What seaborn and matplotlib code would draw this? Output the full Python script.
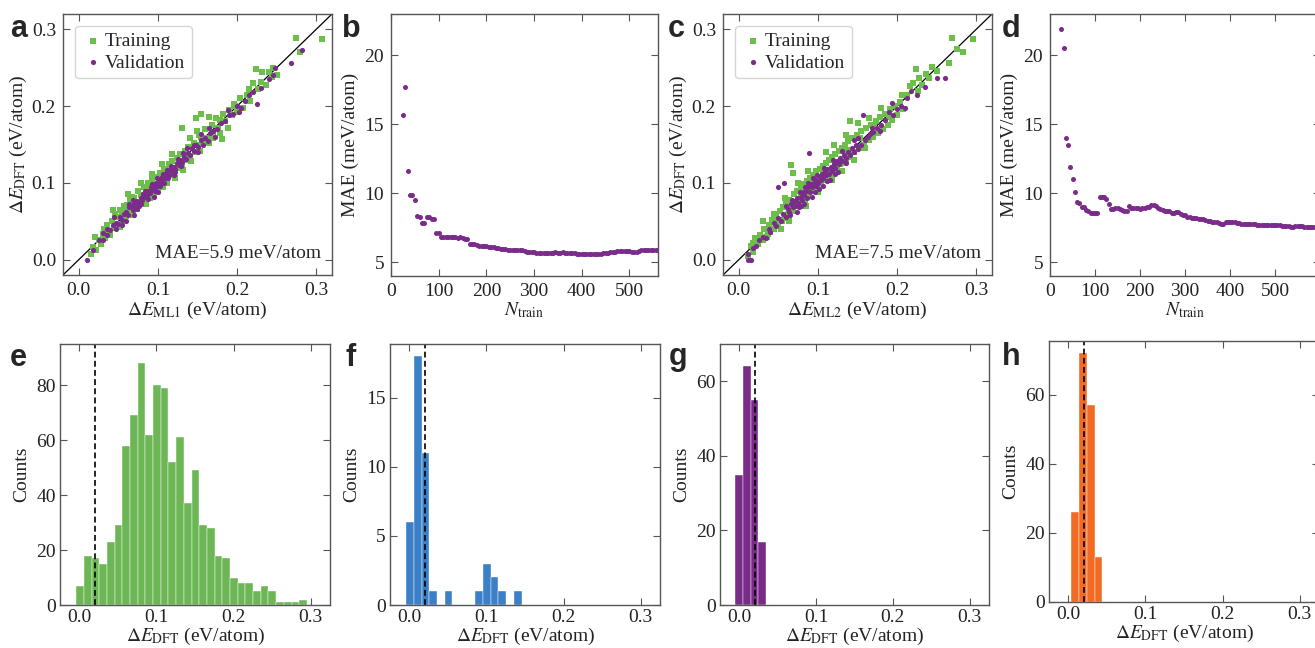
import numpy as np
import matplotlib
matplotlib.use("Agg")
import matplotlib.pyplot as plt
import seaborn as sns

# ---- data ----
# a: ML1 parity (x = predicted, y = DFT), eV/atom
a_train = [(0.015, 0.008), (0.018, 0.016), (0.022, 0.012), (0.026, 0.025), (0.028, 0.020), (0.030, 0.033),
           (0.033, 0.028), (0.035, 0.045), (0.037, 0.036), (0.040, 0.032), (0.042, 0.050), (0.044, 0.041),
           (0.046, 0.060), (0.048, 0.046), (0.050, 0.055), (0.052, 0.043), (0.054, 0.062), (0.056, 0.050),
           (0.058, 0.066), (0.060, 0.057), (0.061, 0.071), (0.063, 0.060), (0.065, 0.078), (0.066, 0.064),
           (0.068, 0.058), (0.070, 0.080), (0.071, 0.070), (0.073, 0.066), (0.075, 0.090), (0.076, 0.072),
           (0.078, 0.084), (0.080, 0.075), (0.082, 0.095), (0.083, 0.080), (0.085, 0.072), (0.087, 0.100),
           (0.088, 0.088), (0.090, 0.080), (0.092, 0.104), (0.094, 0.092), (0.095, 0.085), (0.097, 0.108),
           (0.099, 0.097), (0.100, 0.090), (0.102, 0.113), (0.104, 0.100), (0.106, 0.094), (0.108, 0.118),
           (0.110, 0.105), (0.112, 0.100), (0.114, 0.124), (0.116, 0.110), (0.118, 0.128), (0.120, 0.113),
           (0.122, 0.106), (0.124, 0.133), (0.126, 0.120), (0.128, 0.138), (0.130, 0.124), (0.132, 0.117),
           (0.134, 0.142), (0.136, 0.130), (0.138, 0.147), (0.140, 0.133), (0.142, 0.128), (0.145, 0.152),
           (0.147, 0.140), (0.149, 0.168), (0.151, 0.150), (0.153, 0.142), (0.155, 0.160), (0.158, 0.152),
           (0.160, 0.170), (0.162, 0.158), (0.165, 0.152), (0.168, 0.175), (0.170, 0.165), (0.173, 0.185),
           (0.176, 0.172), (0.179, 0.165), (0.182, 0.190), (0.185, 0.180), (0.188, 0.172), (0.190, 0.195),
           (0.194, 0.188), (0.197, 0.200), (0.200, 0.192), (0.204, 0.210), (0.208, 0.198), (0.212, 0.215),
           (0.216, 0.207), (0.220, 0.230), (0.224, 0.249), (0.226, 0.222), (0.230, 0.232), (0.236, 0.228),
           (0.240, 0.245), (0.245, 0.250), (0.250, 0.240), (0.275, 0.289), (0.280, 0.270), (0.307, 0.287),
           (0.043, 0.065), (0.062, 0.085), (0.078, 0.100), (0.105, 0.125), (0.130, 0.171), (0.148, 0.184),
           (0.155, 0.190), (0.165, 0.186), (0.181, 0.157), (0.170, 0.158), (0.057, 0.070), (0.092, 0.112),
           (0.118, 0.138), (0.140, 0.158), (0.020, 0.030), (0.032, 0.040), (0.052, 0.065), (0.067, 0.082),
           (0.086, 0.094), (0.101, 0.106), (0.115, 0.119), (0.135, 0.139), (0.152, 0.162), (0.178, 0.182),
           (0.196, 0.203), (0.215, 0.222), (0.232, 0.244), (0.244, 0.238)]
a_val = [(0.010, 0.000), (0.018, 0.013), (0.025, 0.025), (0.030, 0.026), (0.035, 0.032), (0.036, 0.040),
         (0.040, 0.038), (0.043, 0.045), (0.047, 0.048), (0.050, 0.046), (0.052, 0.055), (0.055, 0.052),
         (0.057, 0.060), (0.060, 0.062), (0.062, 0.058), (0.064, 0.068), (0.066, 0.070), (0.068, 0.065),
         (0.070, 0.073), (0.071, 0.068), (0.073, 0.076), (0.075, 0.074), (0.076, 0.070), (0.078, 0.080),
         (0.080, 0.078), (0.081, 0.085), (0.083, 0.082), (0.085, 0.088), (0.086, 0.084), (0.088, 0.090),
         (0.090, 0.087), (0.091, 0.094), (0.093, 0.092), (0.095, 0.097), (0.097, 0.095), (0.098, 0.100),
         (0.100, 0.098), (0.102, 0.104), (0.104, 0.101), (0.105, 0.108), (0.107, 0.105), (0.109, 0.111),
         (0.110, 0.107), (0.112, 0.114), (0.114, 0.110), (0.116, 0.118), (0.118, 0.116), (0.120, 0.121),
         (0.122, 0.118), (0.124, 0.126), (0.126, 0.123), (0.128, 0.130), (0.130, 0.127), (0.133, 0.134),
         (0.135, 0.131), (0.138, 0.139), (0.140, 0.136), (0.143, 0.145), (0.146, 0.142), (0.148, 0.150),
         (0.151, 0.147), (0.154, 0.156), (0.157, 0.150), (0.160, 0.158), (0.163, 0.155), (0.166, 0.165),
         (0.170, 0.168), (0.175, 0.170), (0.180, 0.178), (0.185, 0.180), (0.190, 0.188), (0.195, 0.190),
         (0.200, 0.200), (0.205, 0.197), (0.210, 0.207), (0.215, 0.215), (0.220, 0.218), (0.225, 0.203),
         (0.230, 0.224), (0.240, 0.235), (0.245, 0.240), (0.248, 0.250), (0.268, 0.256), (0.282, 0.273),
         (0.060, 0.050), (0.070, 0.058), (0.095, 0.082), (0.100, 0.088), (0.120, 0.110), (0.150, 0.140),
         (0.063, 0.072), (0.069, 0.078), (0.074, 0.066), (0.079, 0.072), (0.084, 0.090), (0.087, 0.079),
         (0.092, 0.099), (0.096, 0.090), (0.099, 0.106), (0.103, 0.096), (0.106, 0.112), (0.108, 0.100),
         (0.111, 0.117), (0.113, 0.106), (0.117, 0.122), (0.121, 0.114), (0.125, 0.131), (0.129, 0.122),
         (0.132, 0.139), (0.137, 0.146), (0.145, 0.150), (0.155, 0.164), (0.165, 0.172), (0.047, 0.040),
         (0.055, 0.045), (0.030, 0.035), (0.045, 0.056), (0.172, 0.160), (0.188, 0.195), (0.202, 0.192)]

# c: ML2 parity
c_train = [(0.012, 0.005), (0.015, 0.018), (0.018, 0.010), (0.020, 0.028), (0.024, 0.020), (0.027, 0.032),
           (0.030, 0.025), (0.032, 0.040), (0.035, 0.030), (0.038, 0.045), (0.040, 0.036), (0.042, 0.052),
           (0.045, 0.040), (0.047, 0.058), (0.050, 0.046), (0.052, 0.063), (0.054, 0.050), (0.056, 0.068),
           (0.058, 0.054), (0.060, 0.072), (0.062, 0.060), (0.064, 0.078), (0.066, 0.123), (0.068, 0.113),
           (0.068, 0.064), (0.070, 0.086), (0.072, 0.070), (0.074, 0.090), (0.076, 0.076), (0.078, 0.094),
           (0.080, 0.080), (0.082, 0.098), (0.084, 0.078), (0.086, 0.102), (0.088, 0.086), (0.090, 0.106),
           (0.092, 0.090), (0.094, 0.110), (0.096, 0.094), (0.098, 0.115), (0.100, 0.098), (0.102, 0.118),
           (0.104, 0.100), (0.106, 0.122), (0.108, 0.104), (0.110, 0.126), (0.112, 0.108), (0.114, 0.130),
           (0.116, 0.112), (0.118, 0.134), (0.120, 0.116), (0.122, 0.138), (0.124, 0.120), (0.126, 0.142),
           (0.128, 0.124), (0.130, 0.146), (0.132, 0.126), (0.134, 0.150), (0.136, 0.130), (0.138, 0.155),
           (0.140, 0.180), (0.140, 0.134), (0.143, 0.158), (0.146, 0.140), (0.149, 0.162), (0.152, 0.146),
           (0.155, 0.168), (0.158, 0.150), (0.161, 0.172), (0.164, 0.156), (0.167, 0.176), (0.170, 0.160),
           (0.173, 0.180), (0.176, 0.165), (0.179, 0.186), (0.182, 0.170), (0.185, 0.190), (0.188, 0.176),
           (0.191, 0.196), (0.194, 0.182), (0.197, 0.200), (0.200, 0.188), (0.204, 0.206), (0.208, 0.196),
           (0.212, 0.214), (0.216, 0.226), (0.220, 0.230), (0.224, 0.249), (0.228, 0.236), (0.232, 0.228),
           (0.236, 0.242), (0.240, 0.236), (0.244, 0.251), (0.250, 0.246), (0.266, 0.256), (0.270, 0.289),
           (0.276, 0.274), (0.283, 0.270), (0.296, 0.287), (0.030, 0.050), (0.045, 0.060), (0.058, 0.080),
           (0.075, 0.100), (0.088, 0.115), (0.110, 0.140), (0.120, 0.150), (0.135, 0.163), (0.150, 0.178),
           (0.165, 0.185), (0.180, 0.198), (0.053, 0.040), (0.063, 0.050), (0.085, 0.070), (0.100, 0.088),
           (0.118, 0.104), (0.130, 0.116), (0.145, 0.130), (0.160, 0.145), (0.018, 0.022), (0.037, 0.033),
           (0.049, 0.052), (0.065, 0.070), (0.079, 0.084), (0.093, 0.100), (0.107, 0.112), (0.121, 0.127),
           (0.137, 0.143), (0.153, 0.158), (0.171, 0.176), (0.190, 0.186), (0.206, 0.214), (0.226, 0.220)]
c_val = [(0.011, -0.001), (0.015, -0.001), (0.012, 0.008), (0.018, 0.015), (0.022, 0.018), (0.026, 0.025),
         (0.030, 0.030), (0.034, 0.028), (0.038, 0.040), (0.040, 0.036), (0.044, 0.048), (0.047, 0.044),
         (0.050, 0.094), (0.057, 0.100), (0.050, 0.054), (0.053, 0.050), (0.056, 0.060), (0.059, 0.056),
         (0.062, 0.066), (0.064, 0.062), (0.066, 0.072), (0.068, 0.068), (0.070, 0.076), (0.071, 0.070),
         (0.073, 0.080), (0.075, 0.074), (0.076, 0.068), (0.078, 0.082), (0.080, 0.078), (0.081, 0.088),
         (0.083, 0.084), (0.085, 0.090), (0.086, 0.080), (0.088, 0.094), (0.089, 0.139), (0.090, 0.088),
         (0.091, 0.098), (0.093, 0.094), (0.095, 0.100), (0.097, 0.096), (0.098, 0.104), (0.100, 0.100),
         (0.102, 0.108), (0.104, 0.104), (0.105, 0.112), (0.107, 0.106), (0.109, 0.115), (0.110, 0.110),
         (0.112, 0.118), (0.114, 0.112), (0.116, 0.121), (0.118, 0.116), (0.120, 0.125), (0.122, 0.119),
         (0.124, 0.129), (0.126, 0.124), (0.128, 0.132), (0.130, 0.128), (0.133, 0.136), (0.135, 0.132),
         (0.138, 0.140), (0.140, 0.136), (0.143, 0.146), (0.146, 0.140), (0.148, 0.150), (0.151, 0.144),
         (0.154, 0.150), (0.157, 0.189), (0.160, 0.156), (0.163, 0.160), (0.166, 0.164), (0.170, 0.166),
         (0.175, 0.172), (0.180, 0.176), (0.185, 0.182), (0.193, 0.204), (0.195, 0.188), (0.200, 0.196),
         (0.205, 0.200), (0.212, 0.210), (0.218, 0.220), (0.225, 0.215), (0.235, 0.225), (0.250, 0.237),
         (0.260, 0.236), (0.073, 0.062), (0.082, 0.072), (0.092, 0.082), (0.096, 0.088), (0.106, 0.096),
         (0.115, 0.104), (0.125, 0.114), (0.067, 0.078), (0.077, 0.088), (0.087, 0.100), (0.099, 0.110),
         (0.108, 0.120), (0.119, 0.130), (0.131, 0.142), (0.145, 0.156), (0.060, 0.070), (0.065, 0.058),
         (0.079, 0.070), (0.084, 0.094), (0.094, 0.106), (0.101, 0.092), (0.111, 0.103), (0.121, 0.111),
         (0.136, 0.126), (0.150, 0.158), (0.168, 0.172), (0.178, 0.168), (0.190, 0.192), (0.210, 0.198)]

# b, d: learning curves (MAE in meV/atom vs training set size)
n_train_b = [25, 30, 35, 40, 45, 50, 55, 60, 65, 70, 75, 80, 85, 90, 95, 100, 105, 110, 115, 120,
             125, 130, 135, 140, 145, 150, 155, 160, 165, 170, 175, 180, 185, 190, 195, 200, 205, 210,
             215, 220, 225, 230, 235, 240, 245, 250, 255, 260, 265, 270, 275, 280, 285, 290, 295, 300,
             305, 310, 315, 320, 325, 330, 335, 340, 345, 350, 355, 360, 365, 370, 375, 380, 385, 390,
             395, 400, 405, 410, 415, 420, 425, 430, 435, 440, 445, 450, 455, 460, 465, 470, 475, 480,
             485, 490, 495, 500, 505, 510, 515, 520, 525, 530, 535, 540, 545, 550, 555, 560]
mae_b = [15.7, 17.7, 11.6, 9.85, 9.85, 9.5, 8.35, 8.3, 7.85, 7.85, 8.3, 8.25, 8.1, 8.15, 7.15, 7.15,
         6.85, 6.85, 6.85, 6.85, 6.8, 6.8, 6.8, 6.75, 6.8, 6.75, 6.7, 6.7, 6.35, 6.35, 6.3, 6.25, 6.2,
         6.2, 6.15, 6.15, 6.1, 6.1, 6.1, 6.05, 6.0, 5.95, 5.95, 5.95, 5.9, 5.9, 5.9, 5.85, 5.85, 5.85,
         5.85, 5.8, 5.75, 5.75, 5.72, 5.72, 5.7, 5.7, 5.68, 5.68, 5.7, 5.7, 5.68, 5.7, 5.72, 5.7, 5.7,
         5.72, 5.7, 5.68, 5.68, 5.65, 5.65, 5.62, 5.6, 5.62, 5.6, 5.62, 5.6, 5.62, 5.6, 5.62, 5.6, 5.62,
         5.65, 5.68, 5.7, 5.72, 5.75, 5.75, 5.8, 5.8, 5.82, 5.8, 5.8, 5.78, 5.75, 5.72, 5.75, 5.82, 5.85,
         5.88, 5.9, 5.9, 5.9, 5.92, 5.9, 5.9]
n_train_d = [25, 30, 35, 40, 45, 50, 55, 60, 65, 70, 75, 80, 85, 90, 95, 100, 105, 110, 115, 120,
             125, 130, 135, 140, 145, 150, 155, 160, 165, 170, 175, 180, 185, 190, 195, 200, 205, 210,
             215, 220, 225, 230, 235, 240, 245, 250, 255, 260, 265, 270, 275, 280, 285, 290, 295, 300,
             305, 310, 315, 320, 325, 330, 335, 340, 345, 350, 355, 360, 365, 370, 375, 380, 385, 390,
             395, 400, 405, 410, 415, 420, 425, 430, 435, 440, 445, 450, 455, 460, 465, 470, 475, 480,
             485, 490, 495, 500, 505, 510, 515, 520, 525, 530, 535, 540, 545, 550, 555, 560, 565, 570,
             575, 580, 585, 590]
mae_d = [21.9, 20.5, 14.0, 13.5, 11.9, 11.0, 10.1, 9.35, 9.3, 9.0, 9.0, 8.8, 8.7, 8.6, 8.6, 8.6, 8.55,
         9.7, 9.7, 9.75, 9.6, 9.25, 8.85, 8.85, 8.9, 8.95, 8.85, 8.8, 8.75, 8.75, 9.05, 8.95, 8.9, 8.9,
         8.9, 8.88, 8.92, 8.95, 8.98, 9.0, 9.15, 9.15, 9.05, 8.95, 8.85, 8.8, 8.75, 8.7, 8.7, 8.55, 8.55,
         8.65, 8.65, 8.5, 8.45, 8.4, 8.3, 8.25, 8.2, 8.22, 8.2, 8.15, 8.1, 8.1, 8.05, 8.0, 8.0, 7.95,
         7.92, 7.9, 7.85, 7.8, 7.78, 7.9, 7.92, 7.9, 7.9, 7.88, 7.85, 7.85, 7.8, 7.78, 7.8, 7.8, 7.78,
         7.75, 7.75, 7.72, 7.72, 7.7, 7.7, 7.7, 7.68, 7.68, 7.68, 7.68, 7.7, 7.68, 7.65, 7.65, 7.62,
         7.6, 7.55, 7.58, 7.6, 7.6, 7.6, 7.6, 7.58, 7.55, 7.55, 7.55, 7.55, 7.53]

# e-h: histogram counts of Delta E_DFT (eV/atom), first bin edge and bin width
e_counts = [7, 18, 17, 15, 23, 29, 58, 69, 88, 62, 80, 79, 52, 61, 37, 49, 29, 28, 18, 17,
            10, 8, 8, 5, 7, 5, 1, 1, 1, 2]
e_start, e_width = -0.004, 0.00997
f_counts = [6, 18, 11, 1, 0, 1, 0, 0, 0, 1, 3, 2, 1, 0, 1]
f_start, f_width = -0.004, 0.00997
g_counts = [35, 64, 55, 17]
g_start, g_width = -0.005, 0.01
h_counts = [26, 72, 57, 13]
h_start, h_width = 0.004, 0.01
threshold = 0.02

mae_text = ["MAE=5.9 meV/atom", "MAE=7.5 meV/atom"]

# ---- style ----
sns.set_style("ticks")
plt.rcParams["font.family"] = ["Liberation Serif", "DejaVu Serif"]
plt.rcParams["mathtext.fontset"] = "stix"
plt.rcParams["font.size"] = 14
plt.rcParams["axes.edgecolor"] = "#555555"
plt.rcParams["axes.linewidth"] = 1.0
plt.rcParams["xtick.color"] = "#555555"
plt.rcParams["ytick.color"] = "#555555"
plt.rcParams["xtick.labelcolor"] = "#222222"
plt.rcParams["ytick.labelcolor"] = "#222222"
plt.rcParams["axes.labelcolor"] = "#222222"

green = "#6cbf4a"
purple = "#7b2c8b"
hist_colors = {"e": "#6cb655", "f": "#3b7fc6", "g": "#7a2a88", "h": "#f26b23"}

fig = plt.figure(figsize=(13.15, 6.48), dpi=100)
W, H = 1315, 648


def add_ax(left, top, right, bottom):
    return fig.add_axes([left / W, 1 - bottom / H, (right - left) / W, (bottom - top) / H])


def style(ax, pad=5):
    ax.tick_params(direction="in", top=True, right=True, length=5, width=0.8, labelsize=14, pad=pad)


ax_a = add_ax(63, 14, 332, 275)
ax_b = add_ax(391, 14, 658, 276)
ax_c = add_ax(723, 14, 992, 275)
ax_d = add_ax(1050, 14, 1320, 276)
ax_e = add_ax(60, 344, 330, 605)
ax_f = add_ax(390, 344, 660, 605)
ax_g = add_ax(720, 344, 989, 605)
ax_h = add_ax(1049, 341, 1319, 602)

# parity plots
for ax, train, val, name, txt in [(ax_a, a_train, a_val, "ML1", mae_text[0]),
                                  (ax_c, c_train, c_val, "ML2", mae_text[1])]:
    tx, ty = zip(*train)
    vx, vy = zip(*val)
    ax.axline((0, 0), slope=1, color="black", lw=0.9, zorder=1)
    sns.scatterplot(x=list(tx), y=list(ty), ax=ax, color=green, marker="s", s=13,
                    linewidth=0, label="Training", zorder=2)
    sns.scatterplot(x=list(vx), y=list(vy), ax=ax, color=purple, marker="o", s=14,
                    linewidth=0, label="Validation", zorder=3)
    ax.set_xlim(-0.02, 0.32)
    ax.set_ylim(-0.02, 0.32)
    ax.set_xticks([0.0, 0.1, 0.2, 0.3])
    ax.set_yticks([0.0, 0.1, 0.2, 0.3])
    ax.set_xlabel(r"$\Delta E_{\mathrm{%s}}$ (eV/atom)" % name, fontsize=14, labelpad=1)
    ax.set_ylabel(r"$\Delta E_{\mathrm{DFT}}$ (eV/atom)", fontsize=14, labelpad=2)
    ax.legend(loc="upper left", fontsize=14, frameon=True, handletextpad=0.0, borderpad=0.35,
              labelspacing=0.2, borderaxespad=0.6, handlelength=1.2, markerscale=1.0,
              edgecolor="#cccccc", fancybox=True)
    ax.text(0.96, 0.05, txt, transform=ax.transAxes, ha="right", va="bottom", fontsize=14)
    style(ax)

# learning curves
for ax, n, mae, xmax in [(ax_b, n_train_b, mae_b, 560), (ax_d, n_train_d, mae_d, 600)]:
    sns.scatterplot(x=n, y=mae, ax=ax, color=purple, s=13, linewidth=0)
    ax.set_xlim(0, xmax)
    ax.set_ylim(4, 23)
    ax.set_xticks([0, 100, 200, 300, 400, 500])
    ax.set_yticks([5, 10, 15, 20])
    ax.set_xlabel(r"$N_{\mathrm{train}}$", fontsize=14, labelpad=0)
    ax.set_ylabel("MAE (meV/atom)", fontsize=14, labelpad=4)
    style(ax)

# histograms
for ax, counts, start, width, key, ymax in [(ax_e, e_counts, e_start, e_width, "e", 95),
                                            (ax_f, f_counts, f_start, f_width, "f", 18.9),
                                            (ax_g, g_counts, g_start, g_width, "g", 70),
                                            (ax_h, h_counts, h_start, h_width, "h", 75.6)]:
    centers = [start + width * (i + 0.5) for i in range(len(counts))]
    sns.histplot(x=centers, weights=counts, binwidth=width,
                 binrange=(start, start + width * len(counts)), ax=ax,
                 color=hist_colors[key], alpha=1, edgecolor="#ffffff", linewidth=0.3)
    ax.axvline(threshold, color="black", ls=(0, (3.5, 2)), lw=1.2)
    ax.set_xlim(-0.025, 0.325)
    ax.set_ylim(0, ymax)
    ax.set_xticks([0.0, 0.1, 0.2, 0.3])
    ax.set_xlabel(r"$\Delta E_{\mathrm{DFT}}$ (eV/atom)", fontsize=14, labelpad=0)
    ax.set_ylabel("Counts", fontsize=14, labelpad=4)
    style(ax, pad=3)

# panel letters
for letter, x, y in [("a", 10, 37), ("b", 342, 37), ("c", 668, 37), ("d", 1002, 37),
                     ("e", 10, 366), ("f", 345, 366), ("g", 669, 365), ("h", 1002, 365)]:
    fig.text(x / W, 1 - y / H, letter, fontsize=22, fontweight="bold",
             family=["Liberation Sans", "DejaVu Sans"], va="baseline", ha="left")

fig.savefig("out.png", dpi=100)
